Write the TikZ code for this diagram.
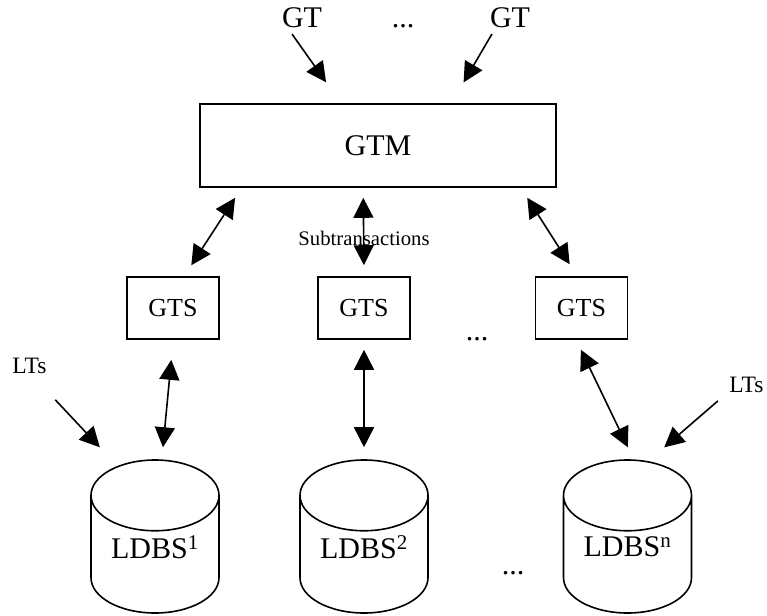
\documentclass[tikz,border=0pt]{standalone}
\usepackage{fontspec}
\setmainfont{Liberation Serif}
\usepackage{tikz}
\usetikzlibrary{shapes.geometric,arrows.meta}

\begin{document}
\begin{tikzpicture}[
    x=1pt, y=-1pt,
    line width=1.6pt,
    >={Triangle[length=20pt,width=20pt]},
    big/.style={font=\fontsize{30}{36}\selectfont},
    txt/.style={inner sep=0pt, anchor=base},
    box/.style={draw, big, minimum width=356pt, minimum height=83pt},
    sbox/.style={draw, font=\fontsize{26}{31}\selectfont, minimum width=92pt, minimum height=62pt},
    db/.style={draw, cylinder, shape border rotate=90, aspect=0.75, minimum width=128pt, minimum height=153pt,
        anchor=shape center, text depth=27pt, big}
]
    \useasboundingbox (0,0) rectangle (767,615);

    \node (gt1) [txt, big] at (302,28) {GT};
    \node (gtdots) [txt, big] at (403,28) {...};
    \node (gt2) [txt, big] at (510,28) {GT};

    \node (gtm) [box] at (378,145.5) {GTM};

    \node (gts1) [sbox] at (173,308) {GTS};
    \node (gts2) [sbox] at (364,308) {GTS};
    \node (gts3) [sbox] at (581.5,308) {GTS};
    \node (gtsdots) [txt, big] at (477,340) {...};

    \node (sub) [txt, font=\fontsize{20.7}{25}\selectfont] at (364,245) {Subtransactions};
    \node (lts1) [txt, font=\fontsize{23.5}{28}\selectfont] at (29.5,373) {LTs};
    \node (lts2) [txt, font=\fontsize{23.5}{28}\selectfont] at (746.5,392) {LTs};

    \node (ldbs1) [db] at (155,536.5) {LDBS\textsuperscript{1}};
    \node (ldbs2) [db] at (364,536.5) {LDBS\textsuperscript{2}};
    \node (ldbsn) [db] at (627.5,536.5) {LDBS\textsuperscript{n}};
    \node (dbdots) [txt, big] at (513,574) {...};

    \draw[->, shorten <=6.1pt, shorten >=25.6pt] ([xshift=-13.5pt]gt1.south) -- ([xshift=141.7pt]gtm.north west);
    \draw[->, shorten <=5.7pt, shorten >=24.1pt] ([xshift=-15.2pt]gt2.south) -- ([xshift=252.2pt]gtm.north west);

    \draw[<->, shorten <=11.9pt, shorten >=13pt] ([xshift=42.4pt]gtm.south west) -- ([xshift=58pt]gts1.north west);
    \draw[<->, shorten <=10pt, shorten >=11pt] ([xshift=164pt]gtm.south west) -- (gts2.north);
    \draw[<->, shorten <=11.8pt, shorten >=14.2pt] ([xshift=321.7pt]gtm.south west) -- ([xshift=42.6pt]gts3.north west);

    \draw[<->, shorten <=20.1pt, shorten >=12pt] ([xshift=47pt]gts1.south west) -- ([xshift=6.8pt]ldbs1.north);
    \draw[<->, shorten <=10pt, shorten >=12pt] (gts2.south) -- (ldbs2.north);
    \draw[<->, shorten <=11pt, shorten >=13.2pt] ([xshift=41.4pt]gts3.south west) -- ([xshift=6.1pt]ldbsn.north);

    \draw[->, shorten <=35.3pt, shorten >=16.3pt] ([xshift=1.6pt]lts1.south) -- ([xshift=-44pt]ldbs1.north);
    \draw[->, shorten <=12pt, shorten >=18.1pt] ([xshift=-19.5pt]lts2.south) -- ([xshift=23pt]ldbsn.north);
\end{tikzpicture}
\end{document}
